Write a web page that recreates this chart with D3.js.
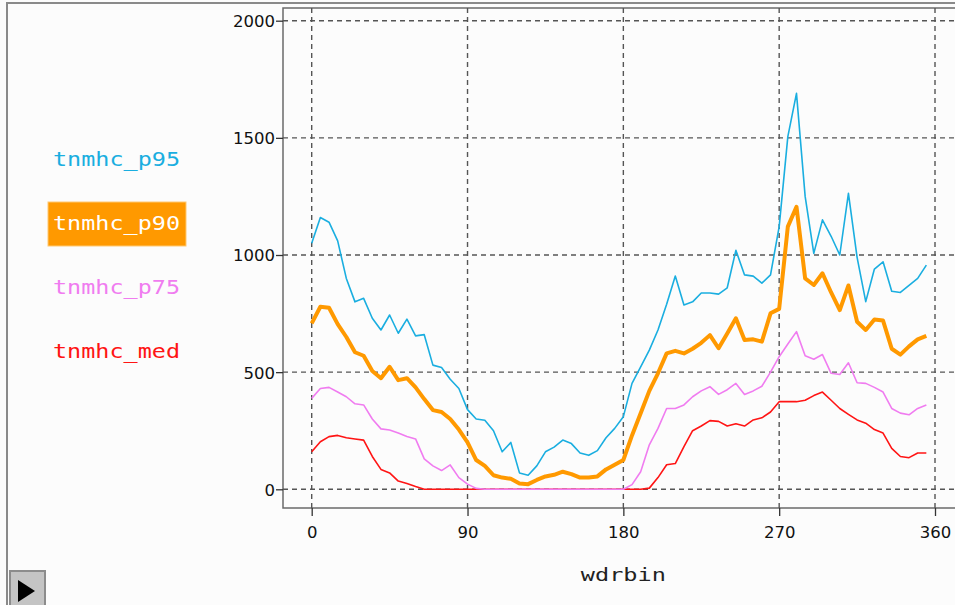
<!DOCTYPE html>
<html>
<head>
<meta charset="utf-8">
<script src="https://cdn.jsdelivr.net/npm/d3@7"></script>
<style>
  html, body { margin: 0; padding: 0; background: #fcfcfc; }
  svg { display: block; }
</style>
</head>
<body>
<div id="chart"></div>
<script>
// wind direction bins (degrees)
const wdrbin = [0, 5, 10, 15, 20, 25, 30, 35, 40, 45, 50, 55, 60, 65, 70, 75, 80, 85, 90, 95,
  100, 105, 110, 115, 120, 125, 130, 135, 140, 145, 150, 155, 160, 165, 170, 175, 180, 185, 190, 195,
  200, 205, 210, 215, 220, 225, 230, 235, 240, 245, 250, 255, 260, 265, 270, 275, 280, 285, 290, 295,
  300, 305, 310, 315, 320, 325, 330, 335, 340, 345, 350, 355];

const tnmhc_p95 = [1050, 1160, 1140, 1060, 900, 800, 815, 730, 680, 744, 666, 726, 655, 660, 530, 520, 470, 430, 340, 300,
  295, 250, 160, 200, 70, 60, 100, 160, 180, 210, 195, 155, 145, 165, 220, 260, 310, 452, 523, 594,
  680, 790, 910, 787, 800, 838, 838, 833, 860, 1020, 915, 910, 880, 915, 1121, 1505, 1690, 1250, 1007, 1150,
  1080, 1000, 1263, 990, 801, 940, 971, 845, 840, 870, 900, 957];

const tnmhc_p90 = [708, 779, 775, 705, 650, 585, 570, 505, 474, 523, 466, 474, 435, 385, 338, 330, 300, 255, 200, 125,
  100, 60, 50, 45, 25, 22, 40, 55, 62, 75, 65, 50, 50, 55, 85, 105, 125, 230, 325, 420,
  495, 580, 591, 580, 600, 625, 658, 602, 665, 730, 637, 640, 630, 751, 770, 1121, 1206, 900, 872, 922,
  840, 765, 870, 715, 680, 725, 720, 600, 575, 610, 640, 655];

const tnmhc_p75 = [388, 430, 435, 415, 395, 365, 360, 300, 258, 253, 240, 225, 215, 130, 100, 80, 104, 50, 22, 4,
  0, 0, 0, 0, 0, 0, 0, 0, 0, 0, 0, 0, 0, 0, 0, 0, 0, 20, 75, 190,
  260, 345, 345, 360, 395, 420, 438, 405, 425, 452, 405, 420, 440, 500, 566, 620, 673, 570, 555, 575,
  495, 490, 540, 455, 452, 435, 415, 345, 325, 318, 345, 360];

const tnmhc_med = [160, 203, 225, 230, 220, 215, 210, 140, 85, 70, 35, 25, 12, 0, 0, 0, 0, 0, 0, 0,
  0, 0, 0, 0, 0, 0, 0, 0, 0, 0, 0, 0, 0, 0, 0, 0, 0, 0, 0, 5,
  50, 105, 110, 182, 250, 270, 293, 290, 270, 280, 270, 296, 305, 330, 374, 374, 374, 380, 400, 415,
  380, 345, 320, 296, 282, 255, 240, 175, 140, 135, 155, 155];

const xTicks = [0, 90, 180, 270, 360];
const yTicks = [0, 500, 1000, 1500, 2000];

const seriesNames = ['tnmhc_p95', 'tnmhc_p90', 'tnmhc_p75', 'tnmhc_med'];
const seriesColors = ['#1aaee0', '#ff9900', '#f07cf0', '#ff1414'];

(function () {
  const width = 955;
  const height = 605;
  const monoFont = '"DejaVu Sans Mono", "Liberation Mono", monospace';
  const numFont = '"DejaVu Sans", "Liberation Sans", sans-serif';

  const svg = d3.select('#chart').append('svg')
    .attr('width', width)
    .attr('height', height);

  svg.append('rect')
    .attr('width', width)
    .attr('height', height)
    .attr('fill', '#fcfcfc');

  // outer panel border
  svg.append('path')
    .attr('d', `M7,${height} V3 H${width}`)
    .attr('fill', 'none')
    .attr('stroke', '#8a8a8a')
    .attr('stroke-width', 2);

  const plot = { left: 283, top: 8, right: width, bottom: 508 };

  const x = d3.scaleLinear().domain([0, 360]).range([311.7, 935]);
  const y = d3.scaleLinear().domain([0, 2000]).range([489.3, 20.7]);

  // plot frame
  svg.append('path')
    .attr('d', `M${plot.right},${plot.top} H${plot.left} V${plot.bottom} H${plot.right}`)
    .attr('fill', 'none')
    .attr('stroke', '#6a6a6a')
    .attr('stroke-width', 1.5);

  // grid
  const grid = svg.append('g').attr('class', 'grid')
    .attr('stroke', '#555')
    .attr('stroke-width', 1.4)
    .attr('stroke-dasharray', '5,4');

  grid.selectAll('line.gx')
    .data(xTicks)
    .join('line')
    .attr('class', 'gx')
    .attr('x1', d => x(d))
    .attr('x2', d => x(d))
    .attr('y1', plot.top)
    .attr('y2', plot.bottom);

  grid.selectAll('line.gy')
    .data(yTicks)
    .join('line')
    .attr('class', 'gy')
    .attr('x1', plot.left)
    .attr('x2', plot.right)
    .attr('y1', d => y(d))
    .attr('y2', d => y(d));

  // axes
  const yAxis = svg.append('g')
    .attr('transform', `translate(${plot.left},0)`)
    .call(d3.axisLeft(y).tickValues(yTicks).tickSize(7).tickPadding(1).tickFormat(d3.format('d')));

  const xAxis = svg.append('g')
    .attr('transform', `translate(0,${plot.bottom})`)
    .call(d3.axisBottom(x).tickValues(xTicks).tickSize(8).tickPadding(10).tickFormat(d3.format('d')));

  [xAxis, yAxis].forEach(ax => {
    ax.select('.domain').remove();
    ax.selectAll('.tick line').attr('stroke', '#333').attr('stroke-width', 1.3);
    ax.selectAll('.tick text')
      .attr('fill', '#111')
      .style('font-family', numFont)
      .style('font-size', '16.5px');
  });
  yAxis.selectAll('.tick text').attr('dy', '0.36em');

  // x axis title
  svg.append('text')
    .attr('x', x(180))
    .attr('y', 581)
    .attr('text-anchor', 'middle')
    .attr('fill', '#222')
    .attr('textLength', 85)
    .attr('lengthAdjust', 'spacingAndGlyphs')
    .style('font-family', monoFont)
    .style('font-size', '18px')
    .text('wdrbin');

  // series lines
  const seriesData = [tnmhc_p95, tnmhc_p90, tnmhc_p75, tnmhc_med];
  const line = d3.line()
    .x((d, i) => x(wdrbin[i]))
    .y(d => y(d));

  const drawOrder = [0, 1, 3, 2];
  drawOrder.forEach(k => {
    svg.append('path')
      .datum(seriesData[k])
      .attr('fill', 'none')
      .attr('stroke', seriesColors[k])
      .attr('stroke-width', k === 1 ? 4 : 1.6)
      .attr('stroke-linejoin', 'round')
      .attr('d', line);
  });

  // legend (p90 selected)
  const legend = svg.append('g').attr('class', 'legend');
  seriesNames.forEach((name, i) => {
    const by = 166 + i * 64;
    if (i === 1) {
      legend.append('rect')
        .attr('x', 48)
        .attr('y', by - 28)
        .attr('width', 138)
        .attr('height', 44)
        .attr('fill', seriesColors[i])
        .attr('stroke', '#ffc870')
        .attr('stroke-width', 1);
    }
    legend.append('text')
      .attr('x', 53)
      .attr('y', by)
      .attr('fill', i === 1 ? '#ffffff' : seriesColors[i])
      .attr('textLength', 127)
      .attr('lengthAdjust', 'spacingAndGlyphs')
      .style('font-family', monoFont)
      .style('font-size', '19px')
      .text(name);
  });

  // play button
  const btn = svg.append('g');
  btn.append('rect')
    .attr('x', 10).attr('y', 571).attr('width', 35).attr('height', 40)
    .attr('fill', '#c4c4c4')
    .attr('stroke', '#8c8c8c')
    .attr('stroke-width', 2);
  btn.append('path')
    .attr('d', 'M18,580 L35,591 L18,602 Z')
    .attr('fill', '#000');
})();
</script>
</body>
</html>
